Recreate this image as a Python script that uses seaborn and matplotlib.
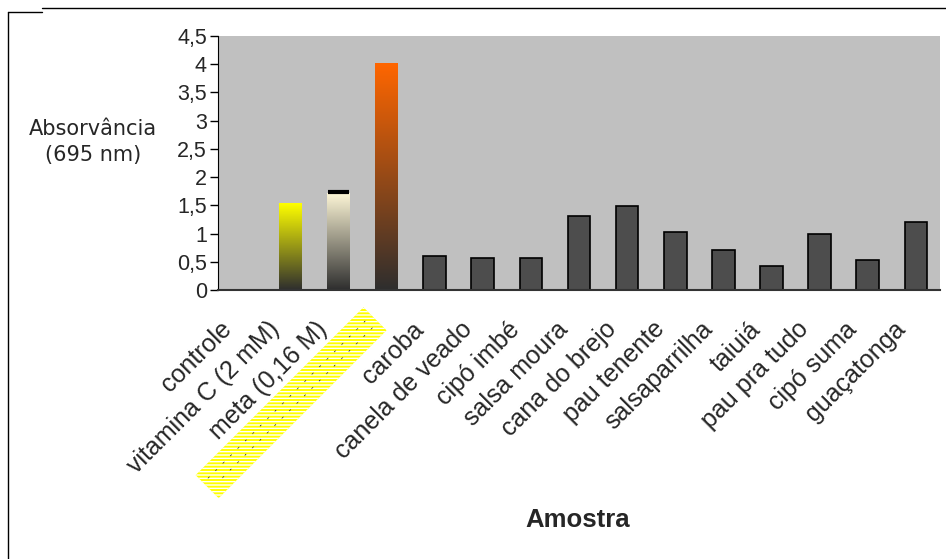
import numpy as np
import pandas as pd
import matplotlib
matplotlib.use("Agg")
import matplotlib.pyplot as plt
import matplotlib.colors as mcolors
from matplotlib.lines import Line2D
from matplotlib.transforms import ScaledTranslation
import seaborn as sns

hidden_label = ("-   -   -   -   -   -   -   -   -   -   -   -   -   -   -   -   -   -   -   -   -   -\n"
                "  -   -   -   -   -   -   -   -   -   -   -   -   -   -   -   -   -   -   -   -   -")
categories = ["controle", "vitamina C (2 mM)", "meta (0,16 M)", hidden_label,
              "caroba", "canela de veado", "cipó imbé", "salsa moura", "cana do brejo",
              "pau tenente", "salsaparrilha", "taiuiá", "pau pra tudo", "cipó suma", "guaçatonga"]
values = [0.0, 1.54, 1.72, 4.02, 0.60, 0.57, 0.57, 1.31, 1.49, 1.03, 0.71, 0.43, 0.99, 0.53, 1.21]
gradient_tops = {1: "#FFFF00", 2: "#FFF8D8", 3: "#FF6600"}
yticks = [0, 0.5, 1, 1.5, 2, 2.5, 3, 3.5, 4, 4.5]
ytick_labels = ["0", "0,5", "1", "1,5", "2", "2,5", "3", "3,5", "4", "4,5"]

sns.set_style("white")
plt.rcParams["font.family"] = ["Liberation Sans", "DejaVu Sans"]

df = pd.DataFrame({"Amostra": categories, "Abs": values})
fig = plt.figure(figsize=(9.46, 5.59), dpi=100)
ax = fig.add_axes([218/946, 1-290/559, (940-218)/946, (290-36)/559])
ax.set_facecolor("#C0C0C0")

palette = {c: "#4D4D4D" for c in categories}
sns.barplot(data=df, x="Amostra", y="Abs", hue="Amostra", palette=palette, dodge=False,
            legend=False, width=0.47, edgecolor="black", linewidth=1.2, saturation=1, ax=ax)

# gradient fills
patches = ax.patches
for idx, top in gradient_tops.items():
    p = patches[idx]
    p.set_edgecolor("none")
    x0, y0 = p.get_x(), p.get_y()
    w, h = p.get_width(), p.get_height()
    c_top = np.array(mcolors.to_rgb(top))
    c_bot = np.array(mcolors.to_rgb("#2E2E2E"))
    t = np.linspace(0, 1, 256)[:, None]
    grad = (c_bot * (1 - t) + c_top * t)[:, None, :]
    im = ax.imshow(grad, extent=[x0, x0 + w, y0, y0 + h], origin="lower",
                   aspect="auto", zorder=p.get_zorder() + 0.1, interpolation="bilinear")
    im.set_clip_path(p)
    if idx == 2:
        ax.plot([x0 + 0.02, x0 + w - 0.02], [y0 + h + 0.02, y0 + h + 0.02], color="black",
                lw=3, zorder=5, solid_capstyle="butt")

ax.set_xlim(-0.5, len(categories) - 0.5)
ax.set_ylim(0, 4.5)
ax.set_yticks(yticks)
ax.set_yticklabels(ytick_labels, fontsize=15.5)
ax.tick_params(axis="y", direction="out", length=6, width=1, color="black", left=True, pad=2)

ax.set_xticks(np.arange(-0.5, len(categories), 1.0))
ax.set_xticklabels([])
ax.set_xticks(np.arange(len(categories)), minor=True)
ax.set_xticklabels(categories, minor=True, rotation=45, ha="right",
                   rotation_mode="anchor", fontsize=18)
ax.tick_params(axis="x", which="major", direction="inout", length=14, width=1, color="#333333")
ax.tick_params(axis="x", which="minor", length=0, pad=19.5)

shift = ScaledTranslation(-23/100, 0, fig.dpi_scale_trans)
for lab in ax.get_xticklabels(minor=True):
    lab.set_transform(lab.get_transform() + shift)

lab = ax.get_xticklabels(minor=True)[3]
lab.set_fontsize(6.5)
lab.set_linespacing(1.1)
lab.set_bbox(dict(facecolor="yellow", edgecolor="white", linewidth=0, hatch="-----", pad=5))

for s in ["top", "right"]:
    ax.spines[s].set_visible(False)
ax.spines["left"].set_color("black")
ax.spines["bottom"].set_color("#333333")
ax.spines["bottom"].set_linewidth(1.5)

ax.set_xlabel("")
ax.set_ylabel("")
fig.text(93/946, 1-142/559, "Absorvância\n(695 nm)", ha="center", va="center",
         fontsize=15, family=["DejaVu Sans"], linespacing=1.32)
fig.text(578/946, 1-520/559, "Amostra", ha="center", va="center", fontsize=18.5,
         fontweight="bold")

# outer chart border
fig.add_artist(Line2D([8/946, 8/946], [0, 1-12/559], transform=fig.transFigure, color="black", lw=1))
fig.add_artist(Line2D([8/946, 42/946], [1-12/559, 1-12/559], transform=fig.transFigure, color="black", lw=1))
fig.add_artist(Line2D([42/946, 1], [1-8/559, 1-8/559], transform=fig.transFigure, color="black", lw=1))

fig.savefig("out.png", dpi=100)
